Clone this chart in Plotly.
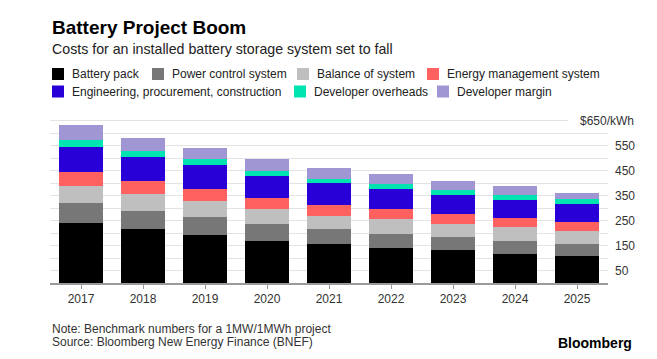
import plotly.graph_objects as go

# ---------------- data ----------------
years = ["2017", "2018", "2019", "2020", "2021", "2022", "2023", "2024", "2025"]

battery_pack = [241, 215, 194, 170, 158, 142, 132, 117, 108]
power_control_system = [80, 74, 69, 67, 57, 55, 52, 53, 50]
balance_of_system = [67, 67, 66, 58, 55, 58, 54, 53, 49]
energy_management_system = [58, 54, 48, 46, 44, 40, 39, 38, 38]
epc = [100, 93, 97, 88, 85, 80, 77, 73, 72]
developer_overheads = [27, 27, 22, 20, 19, 22, 18, 20, 18]
developer_margin = [58, 50, 46, 47, 43, 39, 36, 34, 27]

series_names = [
    "Battery pack",
    "Power control system",
    "Balance of system",
    "Energy management system",
    "Engineering, procurement, construction",
    "Developer overheads",
    "Developer margin",
]
series_values = [
    battery_pack,
    power_control_system,
    balance_of_system,
    energy_management_system,
    epc,
    developer_overheads,
    developer_margin,
]

y_tick_vals = [50, 100, 150, 200, 250, 300, 350, 400, 450, 500, 550, 600]
y_tick_text = ["50", "", "150", "", "250", "", "350", "", "450", "", "550", ""]
top_label_value = 650
top_label_text = "$650/kWh"

title_text = "Battery Project Boom"
subtitle_text = "Costs for an installed battery storage system set to fall"
note_text = "Note: Benchmark numbers for a 1MW/1MWh project"
source_text = "Source: Bloomberg New Energy Finance (BNEF)"
brand_text = "Bloomberg"

# ---------------- styles / layout ----------------
colors = ["#000000", "#777777", "#bfbfbf", "#ff6060", "#2800d7", "#00e4b2", "#a096d4"]
FONT = "Liberation Sans, Arial, Helvetica, sans-serif"

# the page body has an 8px default margin; lay the figure out in page
# coordinates and compensate for that offset
OFF = 8
PAGE_W, PAGE_H = 657, 359
W, H = PAGE_W - OFF, PAGE_H - OFF

# plot area in page coordinates
PL, PR, PT, PB = 50, 608, 118, 283
ML = PL - OFF
MR = W - (PR - OFF)
MT = PT - OFF
MB = H - (PB - OFF)
PW = PR - PL
PH = PB - PT


def px(x):
    """page x -> paper x"""
    return (x - PL) / PW


def py(y):
    """page y -> paper y"""
    return (PB - y) / PH


fig = go.Figure()
for name, vals, col in zip(series_names, series_values, colors):
    fig.add_trace(go.Bar(
        x=years, y=vals, name=name,
        marker=dict(color=col, line=dict(width=0)),
        showlegend=False,
    ))

shapes = []
annotations = []

# partial top gridline (650) that stops before its label
shapes.append(dict(
    type="line", xref="paper", yref="y",
    x0=0, x1=px(568), y0=top_label_value, y1=top_label_value,
    line=dict(color="#e3e3e3", width=1), layer="below",
))
annotations.append(dict(
    text=top_label_text, xref="paper", yref="y",
    x=px(636), y=top_label_value, xanchor="right", yanchor="middle",
    showarrow=False, font=dict(family=FONT, size=12, color="#333333"),
))

# manual legend (swatch left x, row centre y) in page coordinates
legend_layout = [
    (52, 74), (152, 74), (297, 74), (427, 74),
    (52, 91.5), (294, 91.5), (437, 91.5),
]
for (sx, sy), name, col in zip(legend_layout, series_names, colors):
    shapes.append(dict(
        type="rect", xref="paper", yref="paper",
        x0=px(sx), x1=px(sx + 12), y0=py(sy - 6), y1=py(sy + 6),
        fillcolor=col, line=dict(width=0),
    ))
    annotations.append(dict(
        text=name, xref="paper", yref="paper",
        x=px(sx + 18), y=py(sy), xanchor="left", yanchor="middle",
        showarrow=False, font=dict(family=FONT, size=12, color="#222222"),
    ))

# titles and footer
annotations.append(dict(
    text="<b>" + title_text + "</b>", xref="paper", yref="paper",
    x=px(50), y=py(27.5), xanchor="left", yanchor="middle", showarrow=False,
    font=dict(family=FONT, size=19, color="#000000"),
))
annotations.append(dict(
    text=subtitle_text, xref="paper", yref="paper",
    x=px(50), y=py(49), xanchor="left", yanchor="middle", showarrow=False,
    font=dict(family=FONT, size=14.2, color="#222222"),
))
annotations.append(dict(
    text=note_text, xref="paper", yref="paper",
    x=px(50), y=py(329), xanchor="left", yanchor="middle", showarrow=False,
    font=dict(family=FONT, size=12, color="#333333"),
))
annotations.append(dict(
    text=source_text, xref="paper", yref="paper",
    x=px(50), y=py(342), xanchor="left", yanchor="middle", showarrow=False,
    font=dict(family=FONT, size=12, color="#333333"),
))
annotations.append(dict(
    text="<b>" + brand_text + "</b>", xref="paper", yref="paper",
    x=px(634), y=py(343), xanchor="right", yanchor="middle", showarrow=False,
    font=dict(family=FONT, size=14, color="#000000"),
))

fig.update_layout(
    width=W, height=H,
    margin=dict(l=ML, r=MR, t=MT, b=MB, pad=0),
    barmode="stack", bargap=0.3,
    plot_bgcolor="white", paper_bgcolor="white",
    font=dict(family=FONT, size=12, color="#333333"),
    shapes=shapes, annotations=annotations,
    showlegend=False,
    xaxis=dict(
        type="category", range=[-0.5, 8.5],
        showgrid=False, showline=True, linecolor="#9a9a9a", linewidth=1.5,
        ticks="outside", ticklen=4, tickcolor="#9a9a9a", tickwidth=1,
        tickfont=dict(family=FONT, size=12, color="#333333"),
        fixedrange=True,
    ),
    yaxis=dict(
        side="right", range=[0, 660],
        tickvals=y_tick_vals, ticktext=y_tick_text,
        showgrid=True, gridcolor="#e3e3e3", gridwidth=1,
        zeroline=False, showline=False, ticks="",
        tickfont=dict(family=FONT, size=12, color="#333333"),
        ticklabelstandoff=6,
        fixedrange=True,
    ),
)

fig.write_html("out.html")
